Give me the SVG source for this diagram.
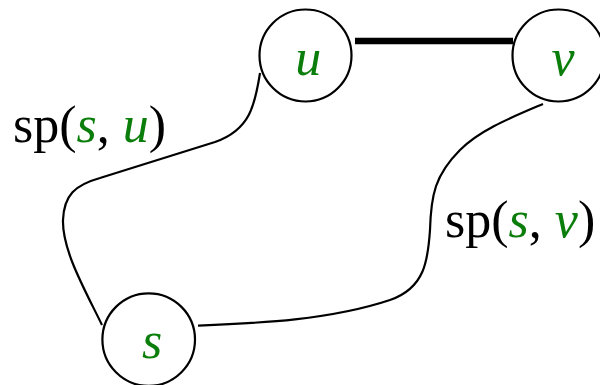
<svg xmlns="http://www.w3.org/2000/svg" width="600" height="385" viewBox="0 0 600 385">
<style>
.node circle{fill:#fff;stroke:#000;stroke-width:2.2}
.lbl{font-family:"Liberation Serif","Times New Roman",serif;font-size:52px;fill:#000}
.var{font-style:italic;fill:#0a7d0a}
.conn path{fill:none;stroke:#000;stroke-width:2.2}
</style>
<rect width="600" height="385" fill="#fff"/>
<g id="connectors" class="conn">
<path d="M355,41 L513,41" style="stroke-width:6.6"/>
<path d="M102,325 C85,290 62,250 63,220 C64,195 75,185 100,178 L215,142 C250,130 255,105 260,73"/>
<path d="M198,325.7 C260,323 330,320 390,300 C425,288 428,260 430,230 C431,195 435,175 460,150 C480,130 510,118 543,104"/>
</g>
<g id="node-u" class="node">
<circle cx="305.5" cy="55.5" r="46"/>
<text class="lbl var" x="308.3" y="75" text-anchor="middle">u</text>
</g>
<g id="node-v" class="node">
<circle cx="558.5" cy="55.5" r="46"/>
<text class="lbl var" x="563" y="75" text-anchor="middle">v</text>
</g>
<g id="node-s" class="node">
<circle cx="148.7" cy="339.6" r="46.3"/>
<text class="lbl var" x="152" y="358" text-anchor="middle">s</text>
</g>
<g id="labels">
<text class="lbl" x="13" y="141.7">sp(<tspan class="var">s</tspan>, <tspan class="var">u</tspan>)</text>
<text class="lbl" x="445" y="236.7">sp(<tspan class="var">s</tspan>, <tspan class="var">v</tspan>)</text>
</g>
</svg>
